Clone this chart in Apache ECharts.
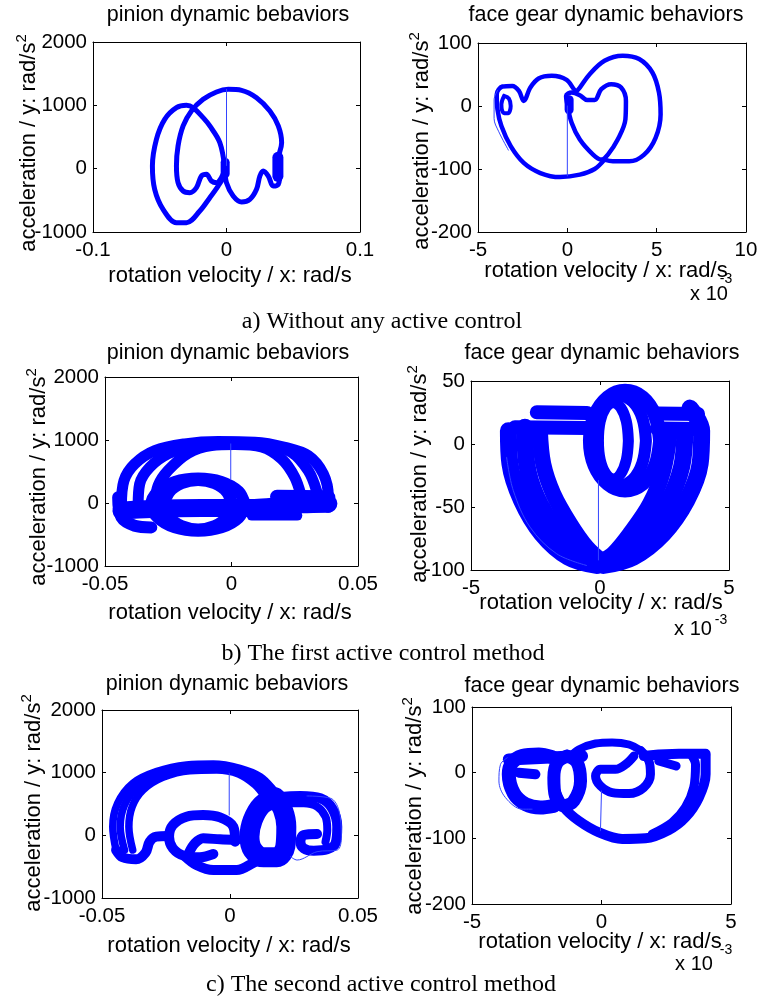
<!DOCTYPE html>
<html><head><meta charset="utf-8">
<script src="https://cdn.jsdelivr.net/npm/echarts@6/dist/echarts.min.js"></script>
<style>html,body{margin:0;padding:0;background:#fff}#c{width:761px;height:999px}</style>
</head><body><div id="c"></div>
<script>
// ---------- tick settings ----------
const p1_xTicks = [-0.1, 0.1, 0.1], p1_yTicks = [-1000, 2000, 1000];
const p2_xTicks = [-5, 10, 5],      p2_yTicks = [-200, 100, 100];
const p3_xTicks = [-0.05, 0.05, 0.05], p3_yTicks = [-1000, 2000, 1000];
const p4_xTicks = [-5, 5, 5],       p4_yTicks = [-100, 50, 50];
const p5_xTicks = [-0.05, 0.05, 0.05], p5_yTicks = [-1000, 2000, 1000];
const p6_xTicks = [-5, 5, 5],       p6_yTicks = [-200, 100, 100];

// ---------- a) without control : pinion ----------
const p1_left = [[-0.0013,16],[-0.005,410],[-0.0125,674],[-0.0175,805],[-0.025,963],[-0.03,1000],[-0.0375,963],[-0.0463,779],[-0.0525,463],[-0.0555,42],[-0.0538,-326],[-0.0475,-642],[-0.0375,-853],[-0.03,-853],[-0.02,-668],[-0.0125,-458],[-0.0063,-274],[-0.0025,-142],[-0.0013,-11]];
const p1_main = [[-0.0013,-11],[0,-221],[0.005,-432],[0.0113,-526],[0.0175,-484],[0.0225,-326],[0.025,-116],[0.0275,-37],[0.0313,-116],[0.035,-274],[0.0388,-247],[0.04,-63],[0.0388,147],[0.0413,411],[0.0388,674],[0.0325,911],[0.0225,1121],[0.0113,1237],[0.0013,1253],[-0.0075,1211],[-0.0175,1095],[-0.0263,911],[-0.0325,674],[-0.0363,358],[-0.0375,42],[-0.0363,-221],[-0.0325,-353],[-0.0275,-379],[-0.0225,-300],[-0.0188,-116],[-0.015,-89],[-0.0113,-195],[-0.0075,-221],[-0.0038,-142],[-0.0013,-11]];
const p1_blobC = [[-0.001,100],[-0.001,-80]];
const p1_blobR = [[0.0385,180],[0.0385,-120]];
const p1_vline = [[0,1253],[0,50]];

// ---------- a) without control : face gear (x in 1e-3) ----------
const p2_outer = [[2.08,-85.1],[1.53,-100.0],[0.70,-109.0],[-0.41,-112.8],[-1.51,-106.4],[-2.44,-90.4],[-3.17,-63.8],[-3.69,-31.9],[-3.91,-5.3],[-3.95,18.6],[-3.63,30.9],[-3.08,31.9],[-2.71,23.9],[-2.44,8.0],[-2.07,29.3],[-1.61,43.6],[-0.87,47.9],[-0.04,41.5],[0.52,23.9],[0.70,29.3],[1.25,50.5],[2.08,71.8],[3.10,79.8],[4.02,74.5],[4.76,53.2],[5.13,21.3],[5.22,-13.3],[4.94,-50.5],[4.30,-77.1],[3.47,-87.8],[2.55,-87.8],[2.08,-85.1]];
const p2_heart = [[0,2.7],[-0.07,16.0],[0.24,21.3],[0.70,17.0],[1.11,9.6],[1.53,9.6],[1.90,26.6],[2.45,34.6],[3.01,29.3],[3.28,8.0],[3.25,-21.3],[2.82,-53.2],[2.27,-77.1],[1.90,-85.1],[1.44,-77.1],[0.70,-53.2],[0.24,-26.6],[0,2.7]];
const p2_loop = [[-3.54,16],[-3.27,11.7],[-3.17,0],[-3.32,-11.7],[-3.58,-10.6],[-3.69,2.7],[-3.54,16]];
const p2_blob = [[0.1,10],[0.1,-6]];
const p2_thin = [[-3.9,25],[-4.1,10],[-4.1,-20],[-3.85,-40],[-3.3,-70]];
const p2_vline = [[0,0],[0,-111]];

// ---------- b) first control : pinion ----------
const p3_archOuter = [[-0.0435,-42],[-0.0425,355],[-0.0383,620],[-0.0303,832],[-0.0185,938],[-0.0053,975],[0.0092,965],[0.0211,885],[0.0303,753],[0.0363,461],[0.0383,90],[0.0383,-69]];
const p3_archMid = [[-0.0369,-42],[-0.0363,302],[-0.0323,567],[-0.0251,779],[-0.0145,920],[0,965],[0.0132,935],[0.0237,806],[0.0303,514],[0.0336,196],[0.0343,-16]];
const p3_archInner = [[-0.0303,-16],[-0.029,276],[-0.0251,514],[-0.0171,790],[-0.0079,912],[0.0013,930],[0.0119,890],[0.0198,700],[0.025,408],[0.0277,90],[0.0284,-69]];
const p3_ringA = [[0.0053,-27],[0.0028,180],[-0.004,334],[-0.0132,387],[-0.0224,334],[-0.0291,180],[-0.0317,-27],[-0.0291,-233],[-0.0224,-387],[-0.0132,-440],[-0.004,-387],[0.0028,-233],[0.0053,-27]];
const p3_ringB = [[0,-27],[-0.0017,170],[-0.0066,313],[-0.0132,366],[-0.0198,313],[-0.0247,170],[-0.0264,-27],[-0.0247,-223],[-0.0198,-366],[-0.0132,-419],[-0.0066,-366],[-0.0017,-223],[0,-27]];
const p3_bar = [[-0.0435,-122],[-0.0317,-95],[-0.0119,-80],[0.0079,-80],[0.016,-60],[0.0277,-20],[0.0383,-10]];
const p3_blobR = [[0.018,100],[0.0383,90]];
const p3_barLow = [[0.008,-200],[0.026,-200]];
const p3_leftLow = [[-0.0448,90],[-0.0435,-228],[-0.0383,-360],[-0.0317,-387]];
const p3_vline = [[-0.0003,938],[-0.0003,382]];

// ---------- b) first control : face gear ----------
const p4_UouterL = [[-3.55,10.6],[-3.49,-15.8],[-3.04,-44.9],[-2.26,-71.3],[-1.23,-89.8],[-0.13,-96.4]];
const p4_UmidL = [[-2.91,13.2],[-2.84,-15.8],[-2.45,-42.2],[-1.74,-66.0],[-0.90,-83.2],[-0.13,-93.7]];
const p4_UinnerL = [[-2.33,10.6],[-2.20,-15.8],[-1.81,-39.6],[-1.16,-63.4],[-0.52,-81.9],[0.06,-92.9]];
const p4_UouterR = [[3.49,28.5],[3.94,10.6],[3.88,-15.8],[3.36,-44.9],[2.45,-71.3],[1.29,-89.8],[0.13,-96.4]];
const p4_UmidR = [[3.29,10.6],[3.16,-18.5],[2.64,-46.2],[1.81,-71.3],[0.90,-88.4],[0.13,-95.1]];
const p4_UinnerR = [[2.71,10.6],[2.45,-21.1],[1.94,-47.5],[1.16,-71.3],[0.52,-87.1],[0.06,-92.9]];
const p4_shelfTop = [[-2.45,25.1],[-0.5,24.6]];
const p4_shelfBot = [[-3.3,13.2],[-0.5,12.6]];
const p4_rightTop = [[2.2,24.2],[3.8,23.8]];
const p4_rightBot = [[2.2,12.3],[3.88,11.9]];
const p4_ring1 = [[2.33,2.6],[2.14,22.4],[1.65,37.0],[0.97,42.2],[0.30,37.0],[-0.21,22.4],[-0.39,2.6],[-0.21,-17.2],[0.30,-31.7],[0.97,-37.0],[1.65,-31.7],[2.14,-17.2],[2.33,2.6]];
const p4_ring3 = [[1.78,2.6],[1.64,20.6],[1.27,33.5],[0.75,38.3],[0.23,33.5],[-0.14,20.6],[-0.28,2.6],[-0.14,-15.3],[0.23,-28.3],[0.75,-33.0],[1.27,-28.3],[1.64,-15.3],[1.78,2.6]];
const p4_ring2 = [[1.10,2.6],[1.02,18.0],[0.80,29.0],[0.52,33.0],[0.23,29.0],[0.01,18.0],[-0.06,2.6],[0.01,-12.7],[0.23,-23.8],[0.52,-27.7],[0.80,-23.8],[1.02,-12.7],[1.10,2.6]];
const p4_thin = [[-3.62,-10.6],[-3.36,-37.0],[-2.71,-66.0],[-1.68,-87.1],[-0.52,-96.4]];
const p4_vline = [[-0.06,-29],[-0.06,-92]];

// ---------- c) second control : pinion ----------
const p5_archOuter = [[-0.0445,-234],[-0.0458,138],[-0.0439,511],[-0.038,830],[-0.0288,1016],[-0.017,1123],[-0.0065,1138],[0.0039,1069],[0.0118,936],[0.017,724],[0.0196,564]];
const p5_archMid = [[-0.0412,-234],[-0.0429,138],[-0.0412,484],[-0.036,777],[-0.0275,990],[-0.0164,1080],[-0.0059,1096],[0.0039,1053],[0.0111,872],[0.0157,670]];
const p5_archInner = [[-0.038,-234],[-0.0395,138],[-0.0382,458],[-0.034,724],[-0.0262,926],[-0.0157,1032],[-0.0052,1043],[0.0033,979],[0.0098,803],[0.0137,606]];
const p5_foot = [[-0.0445,-234],[-0.0419,-351],[-0.0367,-383],[-0.033,-277],[-0.0314,-101],[-0.0288,-21],[-0.0242,-11]];
const p5_eRing = [[0.002,-101],[0.0013,138],[-0.0039,287],[-0.0105,325],[-0.017,298],[-0.0223,165],[-0.0238,-21],[-0.0223,-207],[-0.0177,-330],[-0.0118,-351],[-0.0065,-298]];
const p5_eBar = [[0.0026,-74],[-0.0039,-64],[-0.0105,-48],[-0.0137,-128],[-0.016,-277]];
const p5_bottom = [[-0.0177,-330],[-0.0131,-473],[-0.0065,-553],[0.0026,-553],[0.0092,-436],[0.0131,-341]];
const p5_cLoop = [[0.0177,606],[0.0124,484],[0.0089,245],[0.0076,-21],[0.0089,-234],[0.0131,-351],[0.0183,-351],[0.0216,-181],[0.022,138],[0.0207,404],[0.0177,606]];
const p5_gOuter = [[0.0183,606],[0.0275,628],[0.0353,591],[0.0399,431],[0.0419,138],[0.0412,-128],[0.038,-223],[0.0327,-245],[0.0288,-207],[0.0275,-101],[0.0288,5],[0.034,21]];
const p5_gInner = [[0.0216,511],[0.0288,511],[0.034,458],[0.0373,298],[0.038,85],[0.0373,-101]];
const p5_thin = [[0.0301,628],[0.0393,591],[0.0425,404],[0.0435,-21],[0.0419,-234],[0.034,-261],[0.0262,-394],[0.0236,-340]];
const p5_vline = [[-0.0003,990],[-0.0003,325]];

// ---------- c) second control : face gear ----------
const p6_bowl = [[-1.78,-27.8],[-1.45,-53.0],[-0.88,-73.2],[-0.10,-90.9],[0.80,-101],[1.70,-100],[2.60,-87.4],[3.24,-68.2],[3.76,-37.9],[4.02,-2.5],[4.02,25.3]];
const p6_bowlInner = [[1.96,-93.4],[2.73,-75.8],[3.24,-53.0],[3.56,-22.7],[3.63,12.6],[3.50,25.3]];
const p6_topArc = [[-1.26,22.7],[-0.88,35.4],[-0.23,44.4],[0.41,46],[1.06,42.9],[1.51,33.8]];
const p6_e = [[1.51,33.8],[1.83,17.7],[1.89,-2.5],[1.63,-22.7],[1.06,-31.8],[0.41,-30.3],[-0.04,-20.2],[-0.23,-5.1],[-0.04,5.1],[0.54,5.1],[0.93,12.6],[1.25,25.3]];
const p6_rightTop = [[1.63,25.3],[2.21,27.8],[2.99,28.8],[4.02,28.8]];
const p6_rightBar = [[2.21,17.7],[2.88,10.1]];
const p6_ring = [[-1.33,25.3],[-0.94,15.2],[-0.81,-12.6],[-1.07,-42.9],[-1.45,-50.5],[-1.78,-35.4],[-1.84,-7.6],[-1.71,15.2],[-1.33,25.3]];
const p6_gOuter = [[-1.90,23.7],[-2.42,27.8],[-3.06,25.3],[-3.45,15.2],[-3.58,-2.5],[-3.38,-31.8],[-2.93,-48.0],[-2.36,-53.0],[-1.84,-50.5]];
const p6_topBar = [[-3.58,20.2],[-0.75,25.3]];
const p6_gBar = [[-3.19,0],[-2.55,-2.5]];
const p6_thin = [[-3.64,22.7],[-3.90,12.6],[-3.96,-12.6],[-3.71,-37.9],[-3.06,-55.6],[-2.68,-55.6]];
const p6_vline = [[0,-27.8],[-0.04,-88.4]];

// ---------- layout ----------
const grids = [
  {left:93,  top:42,  width:267, height:190},
  {left:478, top:43,  width:268, height:189},
  {left:105, top:377, width:253, height:189},
  {left:471, top:381, width:258, height:189},
  {left:102, top:710, width:256, height:188},
  {left:472, top:707, width:259, height:197}
];
const xT = [p1_xTicks,p2_xTicks,p3_xTicks,p4_xTicks,p5_xTicks,p6_xTicks];
const yT = [p1_yTicks,p2_yTicks,p3_yTicks,p4_yTicks,p5_yTicks,p6_yTicks];
const SANS = "'Liberation Sans', Arial, sans-serif";
const SERIF = "'Liberation Serif', 'Times New Roman', serif";
const BLUE = '#0000ff';
const fmt = v => String(+(+v).toPrecision(6));

const xAxis = [], yAxis = [];
grids.forEach((g, i) => {
  const base = {type:'value', gridIndex:i, splitLine:{show:false},
    axisLine:{show:true, onZero:false, lineStyle:{color:'#000', width:1}},
    axisTick:{show:true, inside:true, length:4, lineStyle:{color:'#000'}}};
  xAxis.push(Object.assign({}, base, {position:'bottom', min:xT[i][0], max:xT[i][1], interval:xT[i][2],
    axisLabel:{show:true, color:'#000', fontSize:20.5, fontFamily:SANS, margin:8, formatter:fmt, showMinLabel:true, showMaxLabel:true}}));
  xAxis.push(Object.assign({}, base, {position:'top', min:xT[i][0], max:xT[i][1], interval:xT[i][2], axisLabel:{show:false}}));
  yAxis.push(Object.assign({}, base, {position:'left', min:yT[i][0], max:yT[i][1], interval:yT[i][2],
    axisLabel:{show:true, color:'#000', fontSize:20.5, fontFamily:SANS, margin:6, formatter:fmt, showMinLabel:true, showMaxLabel:true}}));
  yAxis.push(Object.assign({}, base, {position:'right', min:yT[i][0], max:yT[i][1], interval:yT[i][2], axisLabel:{show:false}}));
});

const series = [];
function S(panel, data, width, color, smooth) {
  series.push({type:'line', xAxisIndex:panel*2, yAxisIndex:panel*2, data:data, showSymbol:false,
    symbol:'none', smooth: smooth === undefined ? 0.35 : smooth, animation:false, silent:true,
    lineStyle:{color: color || BLUE, width: width, cap:'round', join:'round'}});
}
// panel 1
S(0, p1_left, 5); S(0, p1_main, 5); S(0, p1_blobC, 9, BLUE, false); S(0, p1_blobR, 11, BLUE, false); S(0, p1_vline, 1, '#3344ff', false);
// panel 2
S(1, p2_outer, 4.5); S(1, p2_heart, 4.5); S(1, p2_loop, 4); S(1, p2_blob, 9, BLUE, false); S(1, p2_thin, 1, '#3344ff'); S(1, p2_vline, 1, '#3344ff', false);
// panel 3
S(2, p3_archOuter, 11); S(2, p3_archMid, 11); S(2, p3_archInner, 11);
S(2, p3_ringA, 12); S(2, p3_ringB, 12);
S(2, p3_bar, 18); S(2, p3_blobR, 14, BLUE, false); S(2, p3_barLow, 10, BLUE, false); S(2, p3_leftLow, 12);
S(2, p3_vline, 1, '#3344ff', false);
// panel 4
S(3, p4_UouterL, 17); S(3, p4_UmidL, 17); S(3, p4_UinnerL, 16);
S(3, p4_UouterR, 17); S(3, p4_UmidR, 17); S(3, p4_UinnerR, 16);
S(3, p4_shelfTop, 14, BLUE, false); S(3, p4_shelfBot, 14, BLUE, false);
S(3, p4_rightTop, 14, BLUE, false); S(3, p4_rightBot, 14, BLUE, false);
S(3, p4_ring1, 14); S(3, p4_ring3, 12); S(3, p4_ring2, 11);
S(3, p4_thin, 1, '#3344ff'); S(3, p4_vline, 1, '#3344ff', false);
// panel 5
S(4, p5_archOuter, 7.5); S(4, p5_archMid, 7.5); S(4, p5_archInner, 7.5);
S(4, p5_foot, 10); S(4, p5_eRing, 10); S(4, p5_eBar, 10); S(4, p5_bottom, 10);
S(4, p5_cLoop, 20); S(4, p5_gOuter, 10); S(4, p5_gInner, 8);
S(4, p5_thin, 1, '#3344ff'); S(4, p5_vline, 1, '#3344ff', false);
// panel 6
S(5, p6_bowl, 10); S(5, p6_bowlInner, 9); S(5, p6_topArc, 8); S(5, p6_e, 9);
S(5, p6_rightTop, 10, BLUE, false); S(5, p6_rightBar, 9, BLUE, false);
S(5, p6_ring, 13); S(5, p6_gOuter, 14); S(5, p6_topBar, 12, BLUE, false); S(5, p6_gBar, 10, BLUE, false);
S(5, p6_thin, 1, '#3344ff'); S(5, p6_vline, 1, '#3344ff', false);

// ---------- texts ----------
const g = [];
function T(x, y, text, size, family, rot) {
  g.push({type:'text', x:x, y:y, rotation: rot || 0, silent:true,
    style:{text:text, fill:'#000', font: size + 'px ' + family, fontSize:size, fontFamily:family,
      textAlign:'center', textVerticalAlign:'middle', align:'center', verticalAlign:'middle'}});
}
function YN(x, y) {
  g.push({type:'text', x:x, y:y, rotation: Math.PI/2, silent:true,
    style:{text:'{m|acceleration / y: rad/s}{s|2}', fill:'#000', align:'center', verticalAlign:'middle',
      textAlign:'center', textVerticalAlign:'middle',
      rich:{m:{fontSize:22, fontFamily:SANS, fill:'#000', lineHeight:26, verticalAlign:'bottom'},
            s:{fontSize:15, fontFamily:SANS, fill:'#000', lineHeight:26, verticalAlign:'top'}}}});
}
const titles = [[228,15,'pinion dynamic bebaviors'],[606,15,'face gear dynamic behaviors'],
  [228,353,'pinion dynamic bebaviors'],[602,353,'face gear dynamic behaviors'],
  [227,684,'pinion dynamic bebaviors'],[602,686,'face gear dynamic behaviors']];
titles.forEach(t => T(t[0], t[1], t[2], 21.5, SANS));
const xnames = [[230,276],[606,271],[230,613],[601,603],[229,946],[600,942]];
xnames.forEach(t => T(t[0], t[1], 'rotation velocity / x: rad/s', 22, SANS));
const ynames = [[27,143],[420,141],[37,477],[418,474],[32,803],[413,806]];
ynames.forEach(t => YN(t[0], t[1]));
// x 10^-3 multipliers
T(709, 294, 'x 10', 20, SANS); T(726, 279, '-3', 14, SANS);
T(693, 629, 'x 10', 20, SANS); T(721, 620, '-3', 14, SANS);
T(694, 964, 'x 10', 20, SANS); T(726, 950, '-3', 14, SANS);
// captions
T(382, 322, 'a) Without any active control', 24, SERIF);
T(383, 654, 'b) The first active control method', 24, SERIF);
T(381, 985, 'c) The second active control method', 24, SERIF);

const chart = echarts.init(document.getElementById('c'), null, {renderer:'canvas'});
chart.setOption({animation:false, backgroundColor:'#fff', grid:grids, xAxis:xAxis, yAxis:yAxis, series:series, graphic:{elements:g}});
</script>
</body></html>
